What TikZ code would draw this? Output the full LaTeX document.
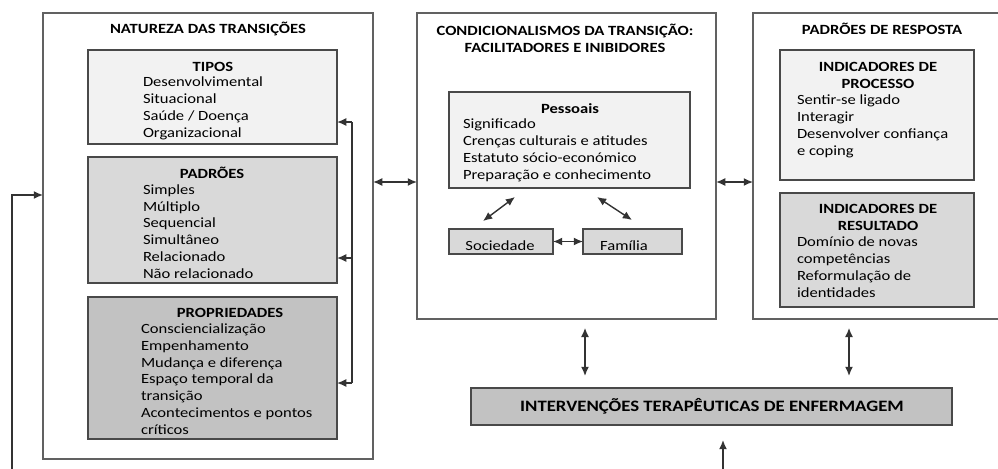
\documentclass[tikz,border=0pt]{standalone}
\usepackage{fontspec}
\setmainfont{Carlito}[FakeStretch=1.18]
\usetikzlibrary{arrows.meta,positioning,calc}
\definecolor{lightFill}{gray}{0.95}
\definecolor{midFill}{gray}{0.85}
\definecolor{darkFill}{gray}{0.76}
\definecolor{lineGray}{gray}{0.38}

\begin{document}
\begin{tikzpicture}[
			x=0.025cm, y=-0.025cm,
			every node/.style={inner sep=0pt, outer sep=0pt, text=black, font=\fontsize{10}{11.9}\selectfont},
			outerBox/.style={draw=lineGray, line width=0.45mm, anchor=north west},   % big frames
			innerBox/.style={draw=lineGray!75!black, line width=0.45mm, anchor=north west},
			titleText/.style={font=\bfseries\fontsize{10}{11.9}\selectfont, align=center, anchor=base},
			itemText/.style={align=left, anchor=base west},   % placed at baseline of last line
			arrowLine/.style={draw=black!80, line width=0.35mm, -{Latex[length=2.3mm,width=2mm]}},
			dblArrow/.style={arrowLine, {Latex[length=2.3mm,width=2mm]}-{Latex[length=2.3mm,width=2mm]}}
		]
		\path[use as bounding box] (0,0) rectangle (998,468);

		% Left frame: natureza das transicoes
		\node[outerBox, minimum width=8.25cm, minimum height=11.15cm] (natureza) at (43,13) {};
		\node[titleText] (natTitle) at (208,33) {NATUREZA DAS TRANSIÇÕES};

		\node[innerBox, fill=lightFill, minimum width=6.225cm, minimum height=2.35cm] (tipos) at (88,50) {};
		\node[titleText] (tiposTitle) at (213,71) {TIPOS};
		\node[itemText] (tiposList) at (143,137) {Desenvolvimental\\Situacional\\Saúde / Doença\\Organizacional};

		\node[innerBox, fill=midFill, minimum width=6.225cm, minimum height=3.15cm] (padroes) at (88,157) {};
		\node[titleText] (padroesTitle) at (212,178) {PADRÕES};
		\node[itemText] (padroesList) at (143,278) {Simples\\Múltiplo\\Sequencial\\Simultâneo\\Relacionado\\Não relacionado};

		\node[innerBox, fill=darkFill, minimum width=6.225cm, minimum height=3.55cm] (propried) at (88,297) {};
		\node[titleText] (propriedTitle) at (230,317) {PROPRIEDADES};
		\node[itemText] (propriedList) at (141,434) {Consciencialização\\Empenhamento\\Mudança e diferença\\Espaço temporal da\\transição\\Acontecimentos e pontos\\críticos};

		% Middle frame: condicionalismos
		\node[outerBox, minimum width=7.475cm, minimum height=7.65cm] (condic) at (417,13) {};
		\node[titleText] (condicTitle) at (565,52) {CONDICIONALISMOS DA TRANSIÇÃO:\\FACILITADORES E INIBIDORES};

		\node[innerBox, fill=lightFill, minimum width=6.025cm, minimum height=2.4cm] (pessoais) at (449,92) {};
		\node[titleText] (pessoaisTitle) at (570,113) {Pessoais};
		\node[itemText] (pessoaisList) at (463,179) {Significado\\Crenças culturais e atitudes\\Estatuto sócio-económico\\Preparação e conhecimento};

		\node[innerBox, fill=midFill, minimum width=2.6cm, minimum height=0.625cm] (socied) at (449,229) {};
		\node[anchor=base] (sociedText) at (500,250) {Sociedade};
		\node[innerBox, fill=midFill, minimum width=2.475cm, minimum height=0.625cm] (familia) at (583,229) {};
		\node[anchor=base] (familiaText) at (624,250) {Família};

		% Right frame: padroes de resposta
		\node[outerBox, minimum width=6.3cm, minimum height=7.65cm] (resposta) at (753,13) {};
		\node[titleText] (respostaTitle) at (882,34) {PADRÕES DE RESPOSTA};

		\node[innerBox, fill=lightFill, minimum width=4.85cm, minimum height=3.25cm] (processo) at (780,50) {};
		\node[titleText] (processoTitle) at (878,88) {INDICADORES DE\\PROCESSO};
		\node[itemText] (processoList) at (797,155) {Sentir-se ligado\\Interagir\\Desenvolver confiança\\e coping};

		\node[innerBox, fill=midFill, minimum width=4.85cm, minimum height=2.85cm] (resultado) at (780,193) {};
		\node[titleText] (resultadoTitle) at (878,230) {INDICADORES DE\\RESULTADO};
		\node[itemText] (resultadoList) at (797,297) {Domínio de novas\\competências\\Reformulação de\\identidades};

		% Bottom box
		\node[innerBox, fill=darkFill, minimum width=12.025cm, minimum height=0.925cm] (interv) at (471,388) {};
		\node[titleText, font=\bfseries\fontsize{11.3}{13}\selectfont] (intervText) at (712,411) {INTERVENÇÕES TERAPÊUTICAS DE ENFERMAGEM};

		% Connectors
		\draw[dblArrow] (natureza.east |- 0,182) -- (condic.west |- 0,182);
		\draw[dblArrow] (condic.east |- 0,182) -- (resposta.west |- 0,182);
		\draw[dblArrow] (socied.east) -- (familia.west);
		\coordinate (sa) at (483,221);
		\coordinate (pa) at (515,197);
		\coordinate (pb) at (597,197);
		\coordinate (fa) at (632,220);
		\draw[dblArrow] (sa) -- (pa);
		\draw[dblArrow] (pb) -- (fa);
		\draw[dblArrow, shorten <=0.22cm, shorten >=0.3cm] (condic.south -| 585,0) -- (interv.north -| 585,0);
		\draw[dblArrow, shorten <=0.22cm, shorten >=0.3cm] (resposta.south -| 849,0) -- (interv.north -| 849,0);

		% Feedback lines
		\coordinate (fbTop) at (352,122);
		\coordinate (fbBot) at (352,383);
		\draw[draw=black!80, line width=0.35mm] (fbTop) -- (fbBot);
		\draw[arrowLine] (fbTop) -- (tipos.east |- fbTop);
		\draw[arrowLine] (fbTop |- 0,258) -- (padroes.east |- 0,258);
		\draw[arrowLine] (fbBot) -- (propried.east |- fbBot);
		\coordinate (loopIn) at (12,470);
		\draw[arrowLine] (loopIn) |- (natureza.west |- 0,195);
		\coordinate (intIn) at (723,470);
		\draw[arrowLine, shorten >=0.375cm] (intIn) -- (interv.south -| intIn);
	\end{tikzpicture}
\end{document}
